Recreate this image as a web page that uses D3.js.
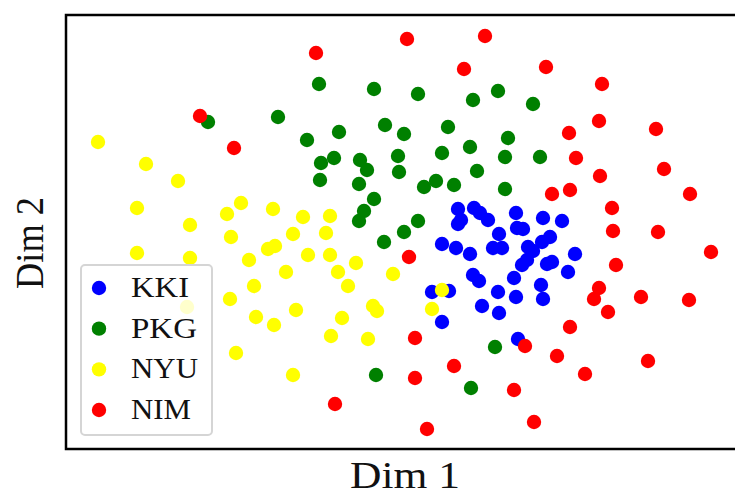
<!DOCTYPE html>
<html>
<head>
<meta charset="utf-8">
<script src="https://cdn.jsdelivr.net/npm/d3@7"></script>
<style>
    body { margin: 0; background: #fff; }
    text { font-family: "Liberation Serif", "DejaVu Serif", serif; fill: #111; }
</style>
</head>
<body>
<script>
// embedding coordinates (Dim 1, Dim 2)
const kkiX = [458, 474, 480, 488, 461, 458, 499, 442, 456, 470, 493, 502, 473, 479, 432, 449, 498, 482, 499, 442,
              516, 543, 562, 517, 523, 550, 542, 528, 533, 575, 552, 547, 527, 522, 568, 514, 541, 516, 543, 518];
const kkiY = [209, 208, 213, 220, 220, 224, 234, 244, 248, 254, 248, 248, 275, 281, 292, 291, 292, 306, 313, 322,
              213, 218, 221, 228, 229, 237, 242, 247, 251, 254, 262, 264, 260, 265, 272, 278, 285, 297, 299, 339];

const pkgX = [208, 278, 319, 374, 418, 473, 498, 533, 307, 339, 385, 404, 448, 508, 321, 334, 360, 367, 398, 399,
              442, 470, 505, 540, 320, 359, 424, 436, 454, 477, 505, 374, 364, 359, 418, 404, 384, 495, 376, 471];
const pkgY = [122, 117, 84, 89, 94, 100, 91, 104, 140, 132, 125, 134, 127, 138, 163, 158, 160, 170, 156, 172,
              153, 147, 157, 157, 180, 184, 187, 181, 185, 171, 189, 199, 211, 221, 221, 232, 242, 347, 375, 388];

const nyuX = [98, 146, 178, 137, 241, 227, 273, 190, 231, 137, 190, 249, 268, 275, 286, 187, 230, 254, 256, 274,
              236, 293, 303, 330, 293, 326, 308, 330, 356, 338, 348, 393, 442, 432, 296, 342, 373, 377, 331, 368];
const nyuY = [142, 164, 181, 208, 203, 214, 209, 225, 237, 253, 258, 260, 249, 246, 272, 307, 299, 286, 317, 325,
              353, 375, 217, 216, 234, 233, 255, 255, 263, 272, 286, 274, 290, 309, 310, 318, 306, 311, 336, 339];

const nimX = [200, 234, 316, 407, 485, 464, 546, 602, 599, 569, 656, 576, 664, 600, 552, 570, 690, 612, 613, 658,
              711, 616, 599, 594, 641, 689, 608, 570, 525, 557, 648, 585, 514, 534, 409, 415, 415, 454, 335, 427];
const nimY = [116, 148, 53, 39, 36, 69, 67, 84, 121, 133, 129, 158, 169, 176, 194, 190, 194, 208, 231, 232,
              252, 265, 288, 299, 297, 300, 312, 327, 346, 356, 361, 374, 390, 422, 257, 338, 378, 366, 404, 429];

const groups = ["KKI", "PKG", "NYU", "NIM"];
const groupColors = ["#0000ff", "#008000", "#ffff00", "#ff0000"];
const seriesX = [kkiX, pkgX, nyuX, nimX];
const seriesY = [kkiY, pkgY, nyuY, nimY];

const width = 735, height = 495;
const plot = { left: 66, top: 15, right: 743, bottom: 449 };

const svg = d3.select("body").append("svg")
    .attr("width", width)
    .attr("height", height);

// scales, picture units straight onto the axes box
const xScale = d3.scaleLinear().domain([66, 743]).range([plot.left, plot.right]);
const yScale = d3.scaleLinear().domain([15, 449]).range([plot.top, plot.bottom]);

// points, one group after the other
groups.forEach((g, gi) => {
    const pts = seriesX[gi].map((x, i) => ({ x: x, y: seriesY[gi][i] }));
    svg.append("g")
        .selectAll("circle")
        .data(pts)
        .enter()
        .append("circle")
        .attr("cx", d => xScale(d.x))
        .attr("cy", d => yScale(d.y))
        .attr("r", 7.2)
        .attr("fill", groupColors[gi]);
});

// frame (no ticks)
svg.append("rect")
    .attr("x", plot.left)
    .attr("y", plot.top)
    .attr("width", plot.right - plot.left)
    .attr("height", plot.bottom - plot.top)
    .attr("fill", "none")
    .attr("stroke", "#000")
    .attr("stroke-width", 2.5);

// axis labels
svg.append("text")
    .attr("x", 405)
    .attr("y", 488)
    .attr("text-anchor", "middle")
    .attr("textLength", 110)
    .attr("lengthAdjust", "spacingAndGlyphs")
    .style("font-size", "38px")
    .text("Dim 1");
svg.append("text")
    .attr("transform", "translate(43,243)rotate(-90)")
    .attr("text-anchor", "middle")
    .attr("textLength", 92)
    .attr("lengthAdjust", "spacingAndGlyphs")
    .style("font-size", "40px")
    .text("Dim 2");

// legend
const legend = svg.append("g");
legend.append("rect")
    .attr("x", 81)
    .attr("y", 265)
    .attr("width", 131)
    .attr("height", 170)
    .attr("rx", 4)
    .attr("fill", "#fff")
    .attr("fill-opacity", 0.8)
    .attr("stroke", "#d5d5d5")
    .attr("stroke-width", 2);

const legY = d3.scaleLinear().domain([0, 3]).range([288, 410]);
const labelWidths = [58, 66, 67, 60];
legend.selectAll("circle")
    .data(groups)
    .enter()
    .append("circle")
    .attr("cx", 99)
    .attr("cy", (d, i) => legY(i))
    .attr("r", 7.2)
    .attr("fill", (d, i) => groupColors[i]);
legend.selectAll("text")
    .data(groups)
    .enter()
    .append("text")
    .attr("x", 131)
    .attr("y", (d, i) => legY(i) + 9)
    .attr("textLength", (d, i) => labelWidths[i])
    .attr("lengthAdjust", "spacingAndGlyphs")
    .style("font-size", "29px")
    .text(d => d);
</script>
</body>
</html>
